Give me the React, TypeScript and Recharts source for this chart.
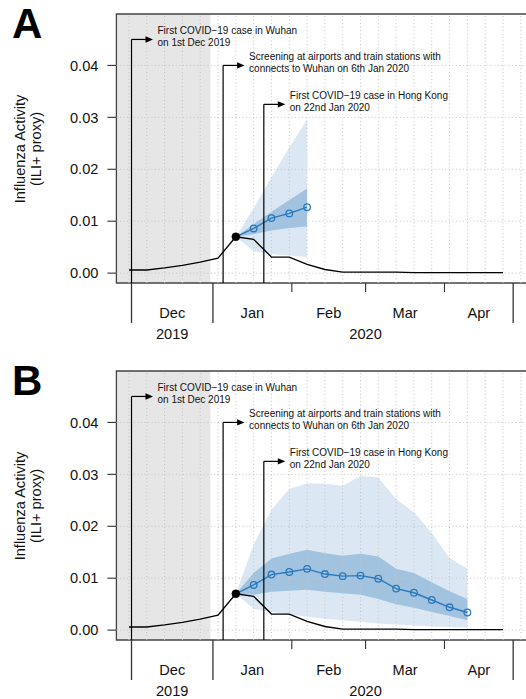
import React from 'react';
import {
  ComposedChart,
  Line,
  Area,
  XAxis,
  YAxis,
  ReferenceArea,
  ReferenceLine,
  ReferenceDot,
} from 'recharts';

const FONT = "'Liberation Sans', Arial, Helvetica, sans-serif";
const BLUE = '#2a79bd';
const BAND = '#4a8bc4';

// weekly points, x = days after 1 Dec 2019 (first week ends 30 Nov 2019)
const weekDays = [-1, 6, 13, 20, 27, 34, 41, 48, 55, 62, 69, 76, 83, 90, 97, 104, 111, 118, 125, 132, 139, 146];
const gridDays = [...weekDays, 153];

// observed ILI+ proxy
const observed = [
  0.0006, 0.0006, 0.001, 0.0015, 0.0021, 0.0029, 0.007, 0.0065, 0.0031, 0.0031, 0.0017,
  0.0007, 0.0002, 0.0002, 0.0002, 0.0002, 0.0001, 0.0001, 0.0001, 0.0001, 0.0001, 0.0001,
];

const forecastStart = 6; // week where the forecasts begin (black dot)

// panel A: 4 week ahead forecast
const fcA = [0.007, 0.0086, 0.0106, 0.0115, 0.0127];
const fcA50Lo = [0.007, 0.0075, 0.0082, 0.0087, 0.009];
const fcA50Hi = [0.007, 0.0094, 0.0118, 0.0141, 0.0163];
const fcA95Lo = [0.007, 0.0042, 0.0037, 0.0034, 0.0031];
const fcA95Hi = [0.007, 0.0125, 0.0185, 0.0242, 0.0296];

// panel B: 13 week ahead forecast
const fcB = [0.007, 0.0087, 0.0107, 0.0112, 0.0118, 0.0108, 0.0104, 0.0105, 0.0099, 0.008, 0.0072, 0.0058, 0.0044, 0.0034];
const fcB50Lo = [0.007, 0.0068, 0.0074, 0.0076, 0.0078, 0.0074, 0.0071, 0.0068, 0.006, 0.005, 0.0043, 0.0035, 0.0027, 0.0019];
const fcB50Hi = [0.007, 0.011, 0.0138, 0.0147, 0.0155, 0.0148, 0.0143, 0.0147, 0.0142, 0.0118, 0.011, 0.0092, 0.0075, 0.006];
const fcB95Lo = [0.007, 0.0041, 0.0035, 0.003, 0.0026, 0.0022, 0.0019, 0.0016, 0.0013, 0.0011, 0.0009, 0.0007, 0.0006, 0.0005];
const fcB95Hi = [0.007, 0.0165, 0.0232, 0.0272, 0.0283, 0.0282, 0.0278, 0.0297, 0.0294, 0.0252, 0.0227, 0.0187, 0.0139, 0.0118];

// x axis: month boundaries (days after 1 Dec 2019)
const monthEdges = [0, 32, 63, 92, 123, 150];
const yearEdges = [0, 32, 150];
const monthNames = ['Dec', 'Jan', 'Feb', 'Mar', 'Apr'];
const yearNames = ['2019', '2020'];
const monthsInYear = [1, 4];

const yTicks = [0, 0.01, 0.02, 0.03, 0.04];
const xDomain = [-5.94, 168.4];
const yDomain = [-0.0019, 0.0499];
const shadeEnd = 31; // 1 Jan 2020

// events
const eventDays = [0, 36, 52];
const eventLevels = [0.045, 0.04, 0.0325];
const eventText = [
  ['First COVID\u221219 case in Wuhan', 'on 1st Dec 2019'],
  ['Screening at airports and train stations with', 'connects to Wuhan on 6th Jan 2020'],
  ['First COVID\u221219 case in Hong Kong', 'on 22nd Jan 2020'],
];

type TickInfo = { edge?: 'tall' | 'short'; month?: string; year?: string };
const tickInfo = new Map<number, TickInfo>();
const put = (v: number, info: TickInfo) => tickInfo.set(v, { ...(tickInfo.get(v) || {}), ...info });
monthEdges.forEach((d) => put(d, { edge: yearEdges.includes(d) ? 'tall' : 'short' }));
const monthMids = monthNames.map((_, k) => (monthEdges[k] + monthEdges[k + 1]) / 2);
monthNames.forEach((m, k) => put(monthMids[k], { month: m }));
let mi = 0;
yearNames.forEach((y, k) => {
  const mids = monthMids.slice(mi, mi + monthsInYear[k]);
  mi += monthsInYear[k];
  put((mids[0] + mids[mids.length - 1]) / 2, { year: y });
});
const axisTicks = [...tickInfo.keys()].sort((a, b) => a - b);

function DateTick(props: any) {
  const { x, y, payload } = props;
  const info = tickInfo.get(payload.value) || {};
  return (
    <g>
      {info.edge && (
        <line x1={x} x2={x} y1={y} y2={y + (info.edge === 'tall' ? 40 : 9)} stroke="#333" strokeWidth={info.edge === 'tall' ? 1.3 : 1.1} />
      )}
      {info.month && (
        <text x={x} y={y + 34.5} textAnchor="middle" fontSize={14.6} fontFamily={FONT} fill="#111">{info.month}</text>
      )}
      {info.year && (
        <text x={x} y={y + 56} textAnchor="middle" fontSize={14.6} fontFamily={FONT} fill="#111">{info.year}</text>
      )}
    </g>
  );
}

function YTick(props: any) {
  const { y, payload } = props;
  return (
    <g>
      <line x1={107.4} x2={116.4} y1={y} y2={y} stroke="#333" strokeWidth={1.1} />
      <text x={98.4} y={y + 5.2} textAnchor="end" fontSize={14.6} fontFamily={FONT} fill="#111">
        {Number(payload.value).toFixed(2)}
      </text>
    </g>
  );
}

function buildRows(fc: number[], lo50: number[], hi50: number[], lo95: number[], hi95: number[]) {
  return weekDays.map((day, i) => {
    const k = i - forecastStart;
    const inFc = k >= 0 && k < fc.length;
    return {
      day,
      observed: observed[i],
      origin: i === forecastStart ? observed[i] : null,
      forecast: inFc ? fc[k] : null,
      band50: inFc ? [lo50[k], hi50[k]] : null,
      band95: inFc ? [lo95[k], hi95[k]] : null,
    };
  });
}

function EventArrow(props: any, lines: string[]) {
  const { cx, cy } = props;
  return (
    <g>
      <line x1={cx} x2={cx + 15} y1={cy} y2={cy} stroke="#000" strokeWidth={1.2} />
      <polygon points={`${cx + 14},${cy - 3.2} ${cx + 21.5},${cy} ${cx + 14},${cy + 3.2}`} fill="#000" />
      <text x={cx + 26} y={cy - 5} fontSize={10} fontFamily={FONT} fill="#111">{lines[0]}</text>
      <text x={cx + 26} y={cy + 6.6} fontSize={10} fontFamily={FONT} fill="#111">{lines[1]}</text>
    </g>
  );
}

function PanelTitle({ letter }: { letter: string }) {
  return (
    <g fontFamily={FONT}>
      <text x={12} y={37.5} fontSize={42} fontWeight="bold" fill="#000">{letter}</text>
      <text transform="translate(24.5,149) rotate(-90)" textAnchor="middle" fontSize={14.6} fill="#111">Influenza Activity</text>
      <text transform="translate(40.5,149) rotate(-90)" textAnchor="middle" fontSize={14.6} fill="#111">(ILI+ proxy)</text>
    </g>
  );
}

type PanelProps = { letter: string; rows: ReturnType<typeof buildRows> };

function Panel({ letter, rows }: PanelProps) {
  return (
    <ComposedChart width={560} height={357} data={rows} margin={{ top: 14, right: 0, bottom: 14, left: 0 }}>
      <XAxis
        dataKey="day"
        type="number"
        domain={xDomain}
        allowDataOverflow
        ticks={axisTicks}
        interval={0}
        tickLine={false}
        axisLine={false}
        tickSize={0}
        tickMargin={0}
        height={60}
        tick={DateTick}
      />
      <YAxis
        type="number"
        domain={yDomain}
        allowDataOverflow
        ticks={yTicks}
        interval={0}
        width={116.4}
        tickSize={0}
        tickMargin={0}
        axisLine={false}
        tickLine={false}
        tick={YTick}
        label={{ content: () => <PanelTitle letter={letter} /> }}
      />
      <ReferenceArea x1={xDomain[0]} x2={shadeEnd} y1={yDomain[0]} y2={yDomain[1]} fill="#e6e6e6" fillOpacity={1} stroke="none" />
      {gridDays.map((d) => (
        <ReferenceLine key={'gx' + d} x={d} stroke="#c4c4c4" strokeWidth={1} strokeDasharray="1 2.5" />
      ))}
      {yTicks.map((v) => (
        <ReferenceLine key={'gy' + v} y={v} stroke="#c4c4c4" strokeWidth={1} strokeDasharray="1 2.5" />
      ))}
      <Area dataKey="band95" type="linear" stroke="none" fill={BAND} fillOpacity={0.2} isAnimationActive={false} activeDot={false} />
      <Area dataKey="band50" type="linear" stroke="none" fill={BAND} fillOpacity={0.4} isAnimationActive={false} activeDot={false} />
      <Line dataKey="observed" type="linear" stroke="#000" strokeWidth={1.3} dot={false} activeDot={false} isAnimationActive={false} />
      <Line
        dataKey="forecast"
        type="linear"
        stroke={BLUE}
        strokeWidth={1.4}
        activeDot={false}
        isAnimationActive={false}
        dot={(p: any) =>
          p.index === forecastStart || p.value == null ? (
            <g key={'d' + p.index} />
          ) : (
            <circle key={'d' + p.index} cx={p.cx} cy={p.cy} r={3.3} fill="none" stroke={BLUE} strokeWidth={1.3} />
          )
        }
      />
      <Line dataKey="origin" stroke="none" dot={{ r: 4, fill: '#000', stroke: '#000', strokeWidth: 0.5 }} activeDot={false} isAnimationActive={false} />
      {eventDays.map((d, k) => (
        <ReferenceLine
          key={'ev' + d}
          segment={[{ x: d, y: eventLevels[k] }, { x: d, y: yDomain[0] }]}
          stroke="#000"
          strokeWidth={1.2}
          ifOverflow="visible"
        />
      ))}
      {eventDays.map((d, k) => (
        <ReferenceDot
          key={'evl' + d}
          x={d}
          y={eventLevels[k]}
          r={0}
          ifOverflow="visible"
          shape={(p: any) => EventArrow(p, eventText[k])}
        />
      ))}
      <ReferenceArea x1={xDomain[0]} x2={xDomain[1]} y1={yDomain[0]} y2={yDomain[1]} fill="none" stroke="#444" strokeWidth={1.3} />
    </ComposedChart>
  );
}

export default function App() {
  const rowsA = buildRows(fcA, fcA50Lo, fcA50Hi, fcA95Lo, fcA95Hi);
  const rowsB = buildRows(fcB, fcB50Lo, fcB50Hi, fcB95Lo, fcB95Hi);
  return (
    <div style={{ position: 'absolute', left: 0, top: 0, width: 526, height: 699, overflow: 'hidden', background: '#fff' }}>
      <div style={{ position: 'absolute', left: 0, top: 0 }}>
        <Panel letter="A" rows={rowsA} />
      </div>
      <div style={{ position: 'absolute', left: 0, top: 357 }}>
        <Panel letter="B" rows={rowsB} />
      </div>
    </div>
  );
}
